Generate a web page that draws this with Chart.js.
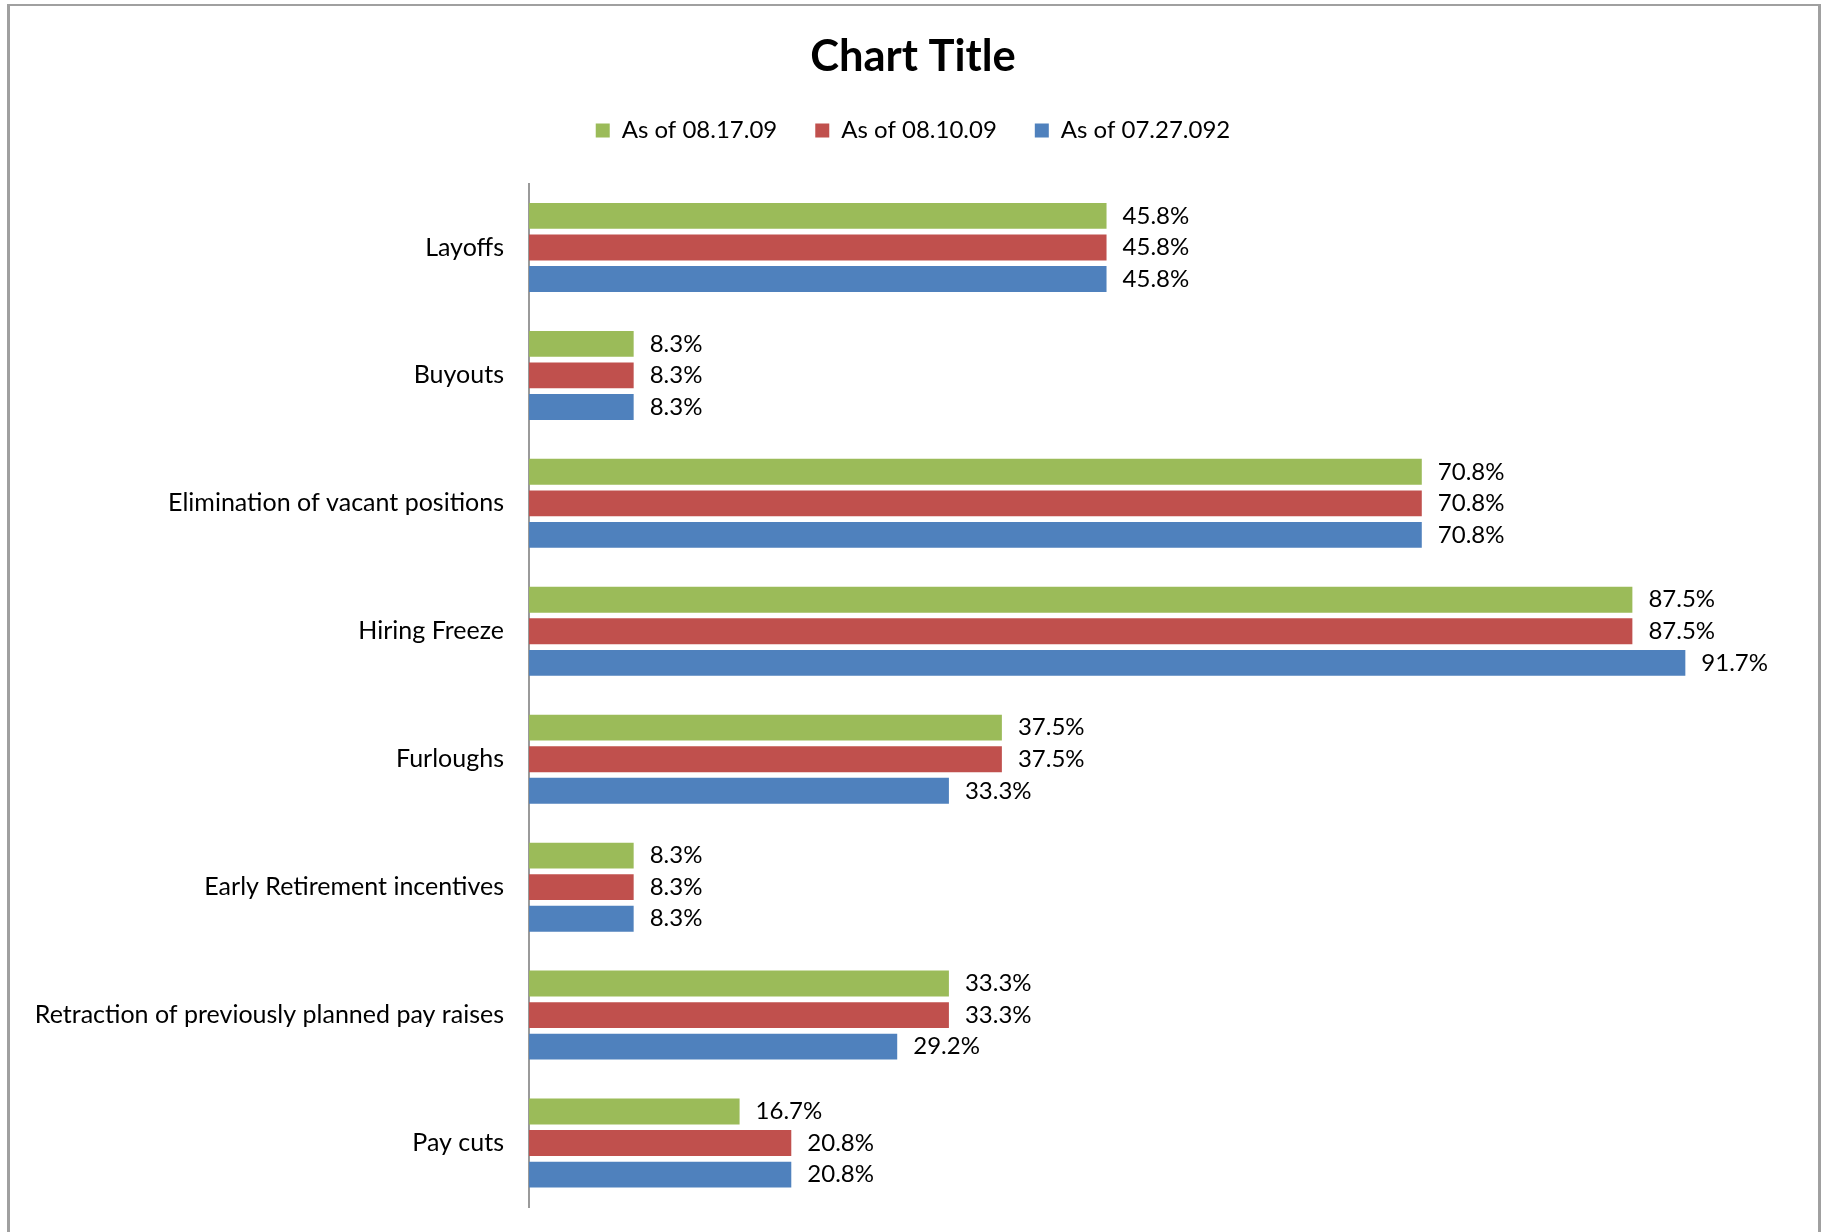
<!DOCTYPE html>
<html>
<head>
<meta charset="utf-8">
<script src="https://cdn.jsdelivr.net/npm/chart.js@4"></script>
<style>
  html, body { margin: 0; padding: 0; background: #fff; }
  #wrap { position: relative; width: 1826px; height: 1232px; overflow: hidden; }
  #frame {
    position: absolute; left: 7px; top: 4px; width: 1808px; height: 1300px;
    border: 2px solid #a0a0a0; border-left-width: 3px; border-right-width: 3px;
    pointer-events: none;
  }
</style>
</head>
<body>
<div id="wrap">
  <canvas id="bar-chart"></canvas>
  <div id="frame"></div>
</div>
<script>
// categories, top to bottom
const categories = [
  'Layoffs',
  'Buyouts',
  'Elimination of vacant positions',
  'Hiring Freeze',
  'Furloughs',
  'Early Retirement incentives',
  'Retraction of previously planned pay raises',
  'Pay cuts'
];

// series values in percent
const asOf081709 = [45.8, 8.3, 70.8, 87.5, 37.5, 8.3, 33.3, 16.7];
const asOf081009 = [45.8, 8.3, 70.8, 87.5, 37.5, 8.3, 33.3, 20.8];
const asOf072709 = [45.8, 8.3, 70.8, 91.7, 33.3, 8.3, 29.2, 20.8];

const seriesLabels = ['As of 08.17.09', 'As of 08.10.09', 'As of 07.27.092'];
const seriesColors = ['#9BBB59', '#C0504D', '#4F81BD'];

Chart.defaults.font.family = 'Lato, "Open Sans", sans-serif';
Chart.defaults.color = '#000';

// value labels at the end of each bar
const barLabels = {
  id: 'barLabels',
  afterDatasetsDraw(chart) {
    const ctx = chart.ctx;
    ctx.save();
    ctx.font = '24px Lato, "Open Sans", sans-serif';
    ctx.fillStyle = '#000';
    ctx.textAlign = 'left';
    ctx.textBaseline = 'middle';
    chart.data.datasets.forEach((ds, i) => {
      chart.getDatasetMeta(i).data.forEach((bar, j) => {
        ctx.fillText(ds.data[j].toFixed(1) + '%', bar.x + 16, bar.y);
      });
    });
    ctx.restore();
  }
};

const allSeries = [asOf081709, asOf081009, asOf072709];

new Chart('bar-chart', {
  type: 'bar',
  data: {
    labels: categories,
    datasets: allSeries.map((values, i) => ({
      label: seriesLabels[i],
      data: values,
      backgroundColor: seriesColors[i],
      borderWidth: 0,
      categoryPercentage: 0.74,
      barPercentage: 0.82
    }))
  },
  options: {
    indexAxis: 'y',
    responsive: true,
    maintainAspectRatio: false,
    animation: false,
    layout: { padding: { top: 0, left: 36, right: 36, bottom: 25 } },
    plugins: {
      title: {
        display: true,
        text: 'Chart Title',
        color: '#000',
        font: { size: 43.5, weight: 'bold', lineHeight: 1.0 },
        padding: { top: 35, bottom: 2 }
      },
      legend: {
        position: 'top',
        labels: {
          boxWidth: 14,
          boxHeight: 14,
          padding: 38,
          color: '#000',
          font: { size: 24 }
        }
      },
      tooltip: { enabled: false }
    },
    scales: {
      x: {
        position: 'top',
        min: 0,
        max: 100,
        grid: { display: false },
        border: { display: false },
        ticks: { display: false },
        afterFit(scale) { scale.height = 31; }
      },
      y: {
        grid: { display: false, drawTicks: false },
        border: { display: true, color: '#9a9a9a', width: 2 },
        ticks: { padding: 25, autoSkip: false, color: '#000', font: { size: 25 } },
        afterFit(scale) {
          scale.width = 493;
          scale.paddingTop = 0;
          scale.paddingBottom = 0;
        }
      }
    }
  },
  plugins: [barLabels]
});
</script>
</body>
</html>
